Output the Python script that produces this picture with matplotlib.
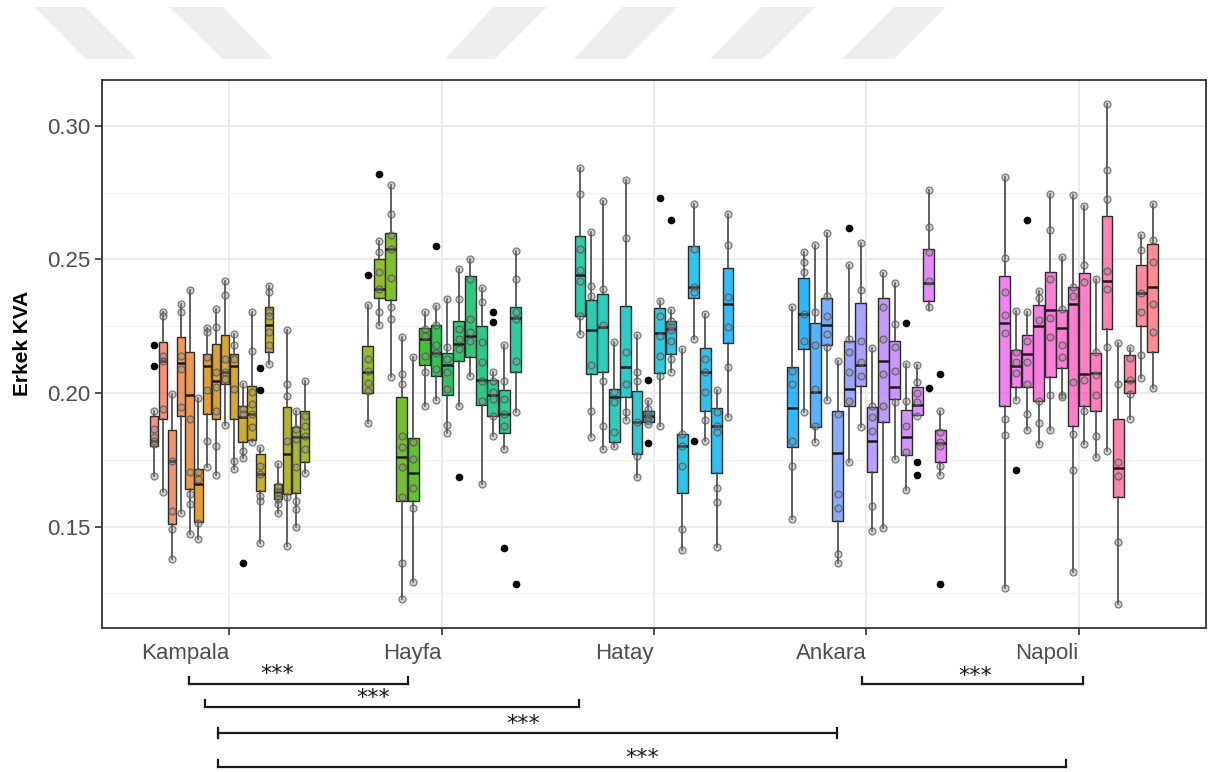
import numpy as np
import matplotlib.pyplot as plt
from matplotlib.patches import Polygon
from matplotlib.transforms import blended_transform_factory

plt.rcParams['font.family'] = ['Liberation Sans', 'DejaVu Sans']

cities = ['Kampala', 'Hayfa', 'Hatay', 'Ankara', 'Napoli']

# box stats per city: (whisker low, q1, median, q3, whisker high)
kampala_box = [
    (.1688, .1803, .1821, .1913, .1934), (.1631, .1903, .2118, .2190, .2302),
    (.1377, .1509, .1746, .1862, .1996), (.1552, .1912, .2113, .2209, .2334),
    (.1471, .1642, .1993, .2155, .2384), (.1453, .1517, .1661, .1717, .1980),
    (.1724, .1921, .2100, .2146, .2242), (.1692, .1903, .2046, .2184, .2315),
    (.1880, .2034, .2080, .2219, .2421), (.1715, .1903, .2102, .2146, .2221),
    (.1755, .1815, .1909, .1953, .2034), (.1815, .1825, .1921, .2027, .2302),
    (.1440, .1633, .1696, .1773, .1793), (.2109, .2155, .2255, .2321, .2400),
    (.1552, .1603, .1630, .1659, .1734), (.1428, .1622, .1771, .1946, .2234),
    (.1500, .1625, .1834, .1871, .1934), (.1702, .1743, .1834, .1934, .2044),
]
hayfa_box = [
    (.1889, .2000, .2078, .2175, .2330), (.2253, .2355, .2388, .2503, .2571),
    (.2061, .2349, .2540, .2599, .2780), (.1228, .1597, .1759, .1984, .2211),
    (.1293, .1597, .1699, .1831, .2134), (.1950, .2105, .2203, .2242, .2302),
    (.1975, .2063, .2150, .2253, .2324), (.1849, .1993, .2103, .2150, .2352),
    (.1950, .2121, .2184, .2268, .2463), (.2065, .2134, .2215, .2438, .2503),
    (.1661, .1955, .2049, .2250, .2393), (.1840, .1915, .1993, .2049, .2078),
    (.1790, .1849, .1921, .2013, .2181), (.1930, .2080, .2280, .2321, .2530),
]
hatay_box = [
    (.2221, .2290, .2443, .2586, .2842), (.1834, .2071, .2234, .2350, .2603),
    (.1790, .2080, .2246, .2371, .2719), (.1796, .1818, .1984, .2015, .2190),
    (.1900, .1984, .2096, .2325, .2799), (.1684, .1771, .1893, .2006, .2219),
    (.1884, .1890, .1915, .1934, .1971), (.1878, .2074, .2225, .2318, .2343),
    (.2078, .2146, .2240, .2271, .2309), (.1411, .1625, .1803, .1846, .2163),
    (.2203, .2355, .2396, .2550, .2709), (.1821, .1934, .2078, .2168, .2296),
    (.1424, .1700, .1875, .1943, .2011), (.1911, .2188, .2333, .2469, .2671),
]
ankara_box = [
    (.1530, .1796, .1944, .2096, .2321), (.1930, .2165, .2295, .2431, .2528),
    (.1815, .1874, .2005, .2261, .2556), (.1974, .2181, .2253, .2355, .2599),
    (.1365, .1521, .1775, .1934, .2121), (.1743, .1950, .2015, .2196, .2478),
    (.1871, .2025, .2105, .2336, .2561), (.1484, .1705, .1821, .1946, .2168),
    (.1493, .1890, .2119, .2355, .2450), (.1753, .1977, .2021, .2193, .2413),
    (.1638, .1768, .1834, .1938, .2109), (.1915, .1918, .1955, .2021, .2105),
    (.2309, .2343, .2413, .2540, .2761), (.1693, .1743, .1812, .1861, .1931),
]
napoli_box = [
    (.1269, .1950, .2262, .2438, .2810), (.1974, .2021, .2102, .2162, .2307),
    (.1861, .2021, .2147, .2218, .2302), (.1810, .1970, .2249, .2331, .2382),
    (.1861, .2061, .2311, .2452, .2746), (.1984, .2093, .2245, .2311, .2509),
    (.1331, .1877, .2334, .2398, .2742), (.1810, .1950, .2071, .2448, .2699),
    (.1759, .1933, .2075, .2151, .2425), (.1781, .2238, .2419, .2663, .3083),
    (.1211, .1612, .1719, .1904, .2187), (.1901, .2000, .2044, .2144, .2168),
    (.2057, .2251, .2376, .2481, .2592), (.2017, .2155, .2398, .2559, .2706),
]

# individual observations (grey circles)
kampala_pts = [
    [.1934, .1865, .1834, .1821, .1809, .1688], [.2302, .2288, .2140, .2118, .1940, .1631],
    [.1996, .1746, .1559, .1490, .1377], [.2334, .2302, .2140, .2090, .1946, .1552],
    [.2384, .1903, .1703, .1621, .1584, .1471], [.1980, .1703, .1678, .1515, .1453],
    [.2242, .2228, .2134, .2013, .1821, .1724], [.2315, .2246, .2078, .2021, .1931, .1803, .1692],
    [.2421, .2368, .2128, .2080, .2053, .1880], [.2221, .2178, .2128, .2015, .1746, .1715],
    [.2034, .1940, .1921, .1784, .1755], [.2302, .2159, .2003, .1959, .1921, .1871, .1815],
    [.1793, .1728, .1696, .1615, .1596, .1440], [.2400, .2378, .2302, .2290, .2228, .2178, .2109],
    [.1734, .1653, .1628, .1603, .1584, .1552], [.2234, .2034, .1990, .1821, .1609, .1428],
    [.1934, .1865, .1828, .1721, .1596, .1565, .1500], [.2044, .1915, .1878, .1840, .1790, .1702],
]
hayfa_pts = [
    [.2330, .2128, .2084, .2038, .2009, .1889], [.2571, .2528, .2453, .2390, .2302, .2253],
    [.2780, .2671, .2590, .2540, .2430, .2321, .2278, .2061],
    [.2211, .2071, .2034, .1840, .1796, .1721, .1609, .1365, .1228],
    [.2134, .1815, .1753, .1643, .1571, .1293], [.2302, .2240, .2215, .2140, .2078, .1950],
    [.2324, .2253, .2178, .2150, .2090, .1975], [.2352, .2171, .2128, .2078, .2015, .1880, .1849],
    [.2463, .2352, .2240, .2203, .2165, .1950], [.2503, .2428, .2278, .2228, .2196, .2065],
    [.2393, .2340, .2190, .2115, .2046, .1971, .1661], [.2078, .2046, .2003, .1978, .1915, .1840],
    [.2181, .2046, .1978, .1921, .1878, .1790], [.2530, .2428, .2302, .2278, .2121, .1930],
]
hatay_pts = [
    [.2842, .2744, .2538, .2459, .2421, .2290, .2221], [.2603, .2400, .2365, .2103, .1931, .1834],
    [.2719, .2390, .2253, .2046, .1878, .1790], [.2190, .2003, .1965, .1853, .1803],
    [.2799, .2580, .2153, .2034, .1928, .1900], [.2219, .2078, .2046, .1890, .1765, .1684],
    [.1971, .1940, .1921, .1909, .1896, .1884], [.2343, .2290, .2215, .2140, .2065, .1878],
    [.2309, .2271, .2246, .2234, .2196, .2128, .2078], [.2163, .1846, .1803, .1728, .1490, .1411],
    [.2709, .2540, .2396, .2378, .2203], [.2296, .2128, .2078, .2003, .1900, .1821],
    [.2011, .1928, .1878, .1853, .1646, .1590, .1424], [.2671, .2553, .2359, .2246, .2096, .1911],
]
ankara_pts = [
    [.2321, .2084, .2034, .1821, .1728, .1530], [.2528, .2490, .2453, .2296, .2196, .1930],
    [.2556, .2303, .2178, .2015, .1878, .1815], [.2599, .2365, .2290, .2221, .2171, .1974],
    [.2121, .1921, .1621, .1571, .1396, .1365], [.2478, .2203, .2153, .2078, .1971, .1743],
    [.2561, .2386, .2196, .2115, .2065, .1871], [.2168, .1953, .1909, .1859, .1576, .1484],
    [.2450, .2321, .2203, .2071, .1953, .1493], [.2413, .2259, .2171, .2084, .1965, .1753],
    [.2109, .1971, .1878, .1778, .1638], [.2105, .2040, .2000, .1965, .1915],
    [.2761, .2621, .2528, .2421, .2321], [.1931, .1853, .1815, .1803, .1728, .1693],
]
napoli_pts = [
    [.2810, .2505, .2378, .2291, .2225, .1904, .1844, .1269], [.2307, .2155, .2115, .2075, .1974],
    [.2302, .2195, .2115, .2034, .1921, .1861], [.2382, .2355, .2275, .1970, .1887, .1810],
    [.2746, .2612, .2425, .2281, .2208, .1991, .1861], [.2509, .2315, .2181, .2135, .1994, .1984],
    [.2742, .2398, .2363, .2041, .1847, .1711, .1331], [.2699, .2479, .2415, .2047, .1934, .1810],
    [.2425, .2155, .2068, .1994, .1840, .1759], [.3083, .2836, .2725, .2455, .2389, .2171, .1781],
    [.2187, .2034, .1740, .1688, .1442, .1211], [.2168, .2130, .2050, .1995, .1901],
    [.2592, .2535, .2376, .2302, .2141, .2057], [.2706, .2573, .2492, .2333, .2227, .2017],
]

# outliers: (box index within city, value)
kampala_out = [(0, .2181), (0, .2100), (10, .1365), (12, .2093), (12, .2011)]
hayfa_out = [(0, .2440), (1, .2819), (6, .2552), (8, .1684), (11, .2302), (11, .2265),
             (12, .1421), (13, .1284)]
hatay_out = [(6, .2049), (6, .1811), (7, .2730), (8, .2649), (10, .1819)]
ankara_out = [(5, .2619), (10, .2261), (11, .1743), (11, .1693), (12, .2018), (13, .2071),
              (13, .1284)]
napoli_out = [(1, .1713), (2, .2648)]

# significance brackets: (from, to, label)
comparisons = [('Kampala', 'Hayfa', '***'), ('Kampala', 'Hatay', '***'),
               ('Kampala', 'Ankara', '***'), ('Kampala', 'Napoli', '***'),
               ('Ankara', 'Napoli', '***')]


def hcl_color(h, c=100, l=65):
    # polar Luv -> sRGB, same as R's hcl()
    hr = np.deg2rad(h)
    u, v = c * np.cos(hr), c * np.sin(hr)
    xn, yn, zn = 95.047, 100.0, 108.883
    un = 4 * xn / (xn + 15 * yn + 3 * zn)
    vn = 9 * yn / (xn + 15 * yn + 3 * zn)
    Y = yn * ((l + 16) / 116) ** 3
    up = u / (13 * l) + un
    vp = v / (13 * l) + vn
    X = Y * 9 * up / (4 * vp)
    Z = Y * (12 - 3 * up - 20 * vp) / (4 * vp)
    X, Y, Z = X / 100, Y / 100, Z / 100
    rgb = np.array([3.2404542 * X - 1.5371385 * Y - 0.4985314 * Z,
                    -0.9692660 * X + 1.8760108 * Y + 0.0415560 * Z,
                    0.0556434 * X - 0.2040259 * Y + 1.0572252 * Z])
    rgb = np.where(rgb <= 0.0031308, 12.92 * rgb, 1.055 * np.abs(rgb) ** (1 / 2.4) - 0.055)
    return tuple(np.clip(rgb, 0, 1))


groups = [(kampala_box, kampala_pts, kampala_out), (hayfa_box, hayfa_pts, hayfa_out),
          (hatay_box, hatay_pts, hatay_out), (ankara_box, ankara_pts, ankara_out),
          (napoli_box, napoli_pts, napoli_out)]

n_total = sum(len(g[0]) for g in groups)
hues = np.linspace(15, 375, n_total + 1)[:-1] % 360

W, H = 1208, 772
fig = plt.figure(figsize=(W / 100, H / 100), dpi=100)
ax = fig.add_axes([102 / W, 1 - 628 / H, (1206 - 102) / W, (628 - 80) / H])

# watermark stripes at the top
stripes = [(35, 85, 85, 137), (169, 223, 223, 273), (493, 547, 445, 495),
           (622, 678, 574, 626), (761, 815, 710, 763), (894, 946, 842, 894)]
for t0, t1, b0, b1 in stripes:
    poly = Polygon([(t0 / W, 1 - 7 / H), (t1 / W, 1 - 7 / H), (b1 / W, 1 - 59 / H), (b0 / W, 1 - 59 / H)],
                   closed=True, transform=fig.transFigure, facecolor='#eeeeee', edgecolor='none')
    fig.patches.append(poly)

k = 0
for gi, (stats, pts, outl) in enumerate(groups):
    n = len(stats)
    w = 0.75 / n
    pos = [gi + 1 + (i - (n - 1) / 2) * w for i in range(n)]
    dicts = []
    for i, (lo, q1, med, q3, hi) in enumerate(stats):
        fl = [v for j, v in outl if j == i]
        dicts.append(dict(whislo=lo, q1=q1, med=med, q3=q3, whishi=hi, fliers=fl))
    bp = ax.bxp(dicts, positions=pos, widths=w * 0.95, patch_artist=True, showcaps=False,
                manage_ticks=False,
                boxprops=dict(edgecolor='#2b2b2b', linewidth=1.0),
                whiskerprops=dict(color='#454545', linewidth=1.2),
                medianprops=dict(color='#1a1a1a', linewidth=1.8),
                flierprops=dict(marker='o', markerfacecolor='black', markeredgecolor='black',
                                markersize=4.5))
    for i, patch in enumerate(bp['boxes']):
        patch.set_facecolor(hcl_color(hues[k + i]) + (0.82,))
        patch.set_edgecolor('#2b2b2b')
    for i, p in enumerate(pts):
        ax.plot([pos[i]] * len(p), p, 'o', ms=5, mfc=(0.55, 0.55, 0.55, 0.4),
                mec=(0.3, 0.3, 0.3, 0.7), mew=0.9, zorder=4)
    k += n

ax.set_xlim(0.4, 5.6)
ax.set_ylim(0.1120, 0.3172)
ax.set_xticks(range(1, 6))
ax.set_xticklabels(cities, ha='right')
ax.set_yticks([0.15, 0.20, 0.25, 0.30])
ax.set_yticklabels(['0.15', '0.20', '0.25', '0.30'])
ax.set_yticks([0.125, 0.175, 0.225, 0.275], minor=True)
ax.grid(which='major', color='#ebebeb', linewidth=1.4)
ax.grid(which='minor', axis='y', color='#f2f2f2', linewidth=0.9)
ax.set_axisbelow(True)
ax.tick_params(axis='both', which='major', length=5, width=1.2, color='#333333',
               labelsize=16, labelcolor='#4d4d4d')
ax.tick_params(axis='x', pad=6)
ax.tick_params(axis='y', which='minor', length=0)
for s in ax.spines.values():
    s.set_color('#333333')
    s.set_linewidth(1.3)

ax.set_ylabel('Erkek KVA', fontsize=15, fontweight='bold')
ax.yaxis.set_label_coords(-0.063, 0.52)

# significance brackets under the axis (x in category units, y in pixels)
trans = blended_transform_factory(ax.transData, fig.transFigure)
bracket_layout = [(0.812, 1.843, 684, 1.226, 672, 'up'), (0.887, 2.649, 707, 1.678, 696, 'up'),
                  (0.948, 3.860, 733, 2.385, 722, 'mid'), (0.948, 4.939, 767, 2.946, 756, 'up'),
                  (3.978, 5.019, 684, 4.515, 674, 'up')]
for (c0, c1, lab), (x0, x1, ypx, tx, typx, style) in zip(comparisons, bracket_layout):
    y = 1 - ypx / H
    ax.plot([x0, x1], [y, y], color='#1a1a1a', lw=1.6, transform=trans, clip_on=False)
    if style == 'up':
        t0, t1 = y, y + 7 / H
    else:
        t0, t1 = y - 5 / H, y + 5 / H
    for xe in (x0, x1):
        ax.plot([xe, xe], [t0, t1], color='#1a1a1a', lw=1.6, transform=trans, clip_on=False)
    ax.text(tx, 1 - (typx + 2) / H, lab, transform=trans, ha='center', va='center',
            fontsize=16, color='#1a1a1a', family='DejaVu Sans')

fig.savefig('out.png', dpi=100)
